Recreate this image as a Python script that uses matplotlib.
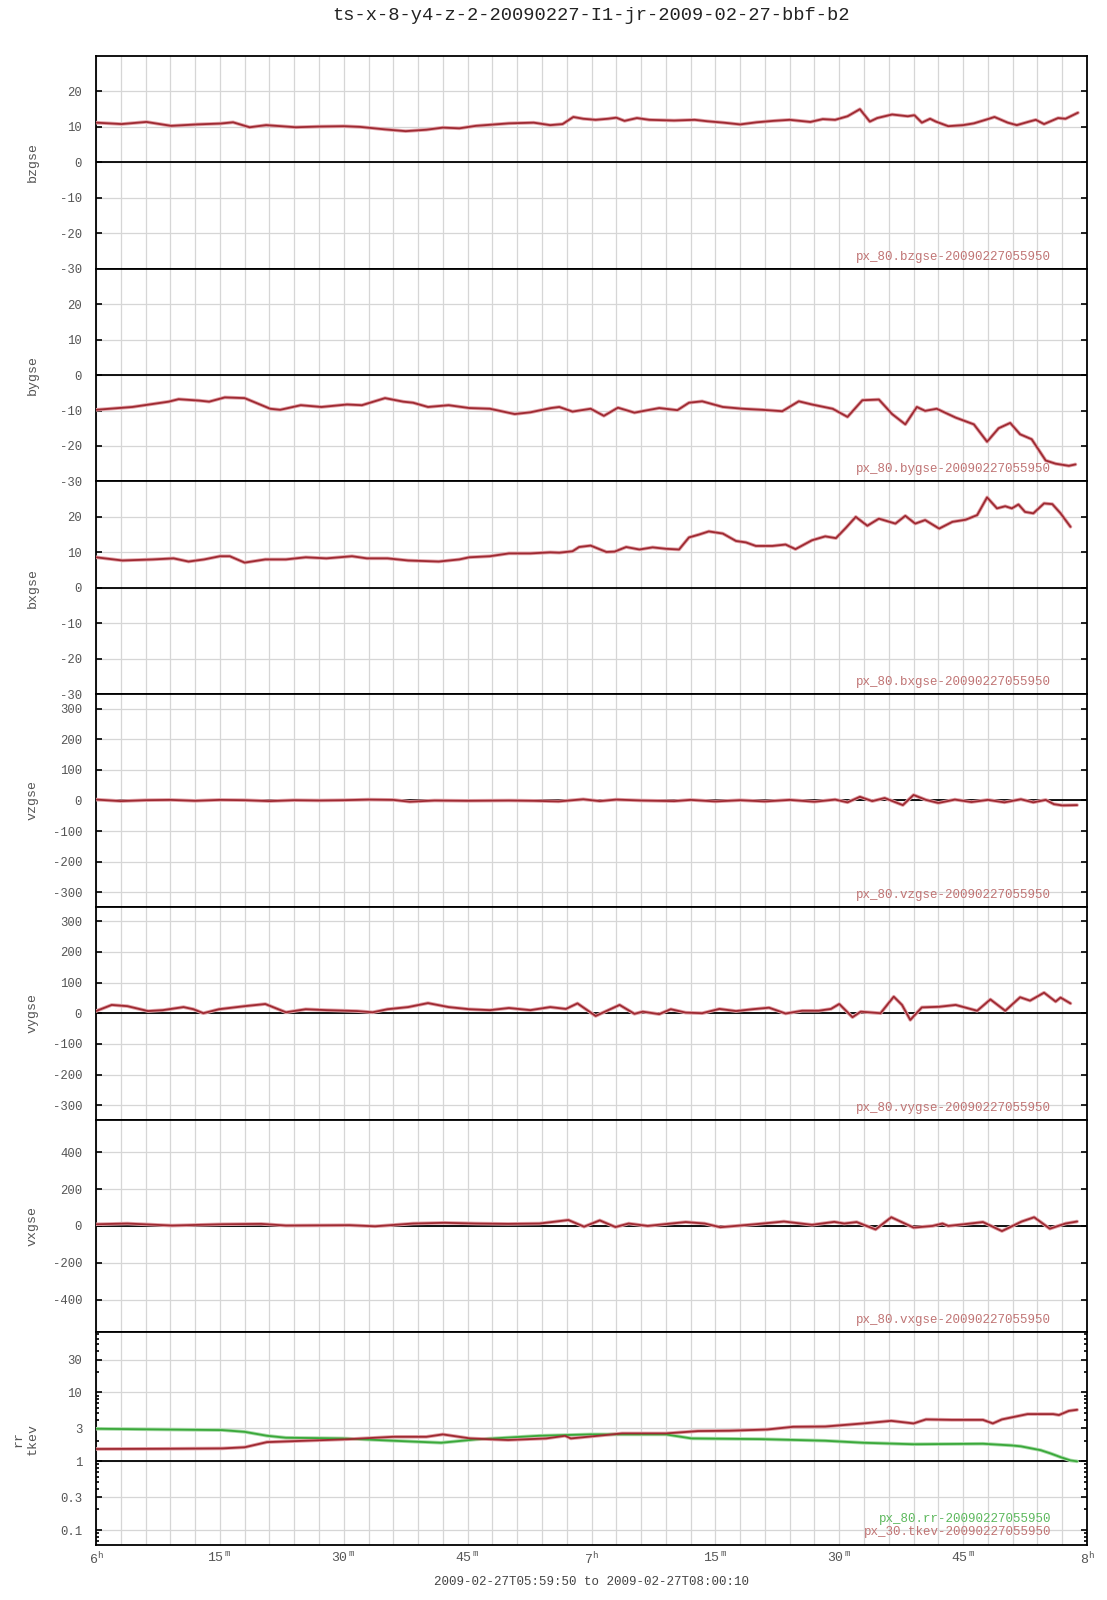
import matplotlib
matplotlib.use("Agg")
import matplotlib.pyplot as plt
import numpy as np
from matplotlib.ticker import FixedLocator, FuncFormatter, LogLocator, NullFormatter

# ---------------- data (minutes after 06:00) ----------------
title = "ts-x-8-y4-z-2-20090227-I1-jr-2009-02-27-bbf-b2"
caption = "2009-02-27T05:59:50 to 2009-02-27T08:00:10"

bz_t = [0, 3.1, 6.1, 9.1, 12.2, 15.1, 16.6, 18.6, 20.6, 24.2, 27, 30, 32, 35, 37.5, 40, 42, 44, 46, 50,
        53, 55, 56.5, 57.8, 59, 60.5, 62, 63, 64, 65.5, 67, 70, 72.5, 74, 76, 78, 80, 82, 84, 86.5, 88,
        89.5, 91, 92.5, 93.7, 94.6, 96.4, 98.3, 99.1, 100, 101, 101.7, 103.2, 105, 106.3, 108, 108.8,
        110.4, 111.5, 113, 113.8, 114.8, 116.5, 117.4, 118.9]
bz_v = [11.2, 10.8, 11.4, 10.3, 10.7, 10.95, 11.3, 9.9, 10.5, 9.9, 10.1, 10.2, 10.0, 9.3, 8.8, 9.2, 9.8,
        9.6, 10.3, 11.0, 11.2, 10.5, 10.8, 12.8, 12.3, 12.0, 12.3, 12.6, 11.7, 12.5, 12.0, 11.8, 12.0,
        11.6, 11.2, 10.7, 11.3, 11.7, 12.0, 11.4, 12.2, 12.0, 13.0, 15.0, 11.5, 12.5, 13.5, 13.0, 13.3,
        11.2, 12.3, 11.5, 10.2, 10.5, 11.0, 12.2, 12.8, 11.2, 10.5, 11.5, 12.0, 10.8, 12.5, 12.3, 14.0]

by_t = [0, 4.4, 8.8, 10, 12.5, 13.7, 15.6, 18, 21.1, 22.3, 24.8, 27.3, 30.4, 32.2, 35, 37.2, 38.4, 40.2,
        42.7, 45.2, 47.7, 50.7, 52.6, 55.1, 56.1, 57.7, 59.9, 61.5, 63.2, 65.2, 68.2, 70.4, 71.8, 73.4,
        75.9, 78.3, 80.7, 83.1, 85.1, 86.7, 89.2, 91.0, 92.8, 94.8, 96.4, 98.0, 99.4, 100.4, 101.8,
        104.1, 106.3, 107.9, 109.3, 110.7, 111.9, 113.3, 115.0, 116.2, 117.8, 118.6]
by_v = [-9.8, -9.0, -7.5, -6.8, -7.2, -7.5, -6.3, -6.5, -9.5, -9.8, -8.5, -9.0, -8.3, -8.5, -6.5, -7.5,
        -7.8, -9.0, -8.5, -9.3, -9.5, -11.0, -10.5, -9.3, -9.0, -10.3, -9.5, -11.5, -9.2, -10.6, -9.3,
        -9.9, -7.8, -7.4, -9.0, -9.5, -9.8, -10.2, -7.4, -8.3, -9.5, -11.8, -7.1, -6.9, -11.0, -13.9,
        -9.0, -10.1, -9.5, -12.0, -13.9, -18.8, -15.0, -13.5, -16.7, -18.1, -24.1, -25.0, -25.6, -25.2]

bx_t = [0, 3.2, 6.9, 9.4, 11.2, 13.1, 15, 16.2, 18, 20.5, 23, 25.4, 27.9, 31, 32.8, 35.3, 37.8, 41.5,
        44, 45.2, 47.7, 50, 52.6, 55, 56.1, 57.7, 58.5, 59.9, 61.8, 62.8, 64.2, 65.8, 67.4, 69.0, 70.6,
        71.8, 73.0, 74.2, 75.9, 77.5, 78.7, 79.9, 81.9, 83.5, 84.7, 86.7, 88.3, 89.6, 90.8, 92.0, 93.4,
        94.8, 96.8, 98.0, 99.2, 100.4, 102.1, 103.7, 105.3, 106.7, 107.9, 109.1, 110.1, 110.9, 111.7,
        112.5, 113.5, 114.8, 115.8, 116.8, 118.0]
bx_v = [8.6, 7.7, 8.0, 8.3, 7.4, 8.0, 8.9, 8.9, 7.1, 8.0, 8.0, 8.6, 8.3, 8.9, 8.3, 8.3, 7.7, 7.4, 8.0,
        8.6, 8.9, 9.7, 9.7, 10.0, 9.9, 10.3, 11.5, 11.9, 10.1, 10.2, 11.5, 10.8, 11.4, 11.0, 10.8, 14.2,
        15.0, 15.9, 15.3, 13.2, 12.8, 11.8, 11.8, 12.2, 10.9, 13.4, 14.5, 14.0, 16.9, 20.0, 17.5, 19.5,
        18.1, 20.3, 18.1, 19.1, 16.7, 18.6, 19.2, 20.5, 25.5, 22.4, 23.0, 22.4, 23.5, 21.4, 21.0, 23.8,
        23.6, 21.0, 17.2]

vz_t = [0, 3, 6, 9, 12, 15, 18, 21, 24, 27, 30, 33, 36, 38, 41, 45, 50, 53, 56, 59, 61, 63, 66, 70, 72,
        75, 78, 81, 84, 87, 89.5, 91, 92.5, 94, 95.5, 97.7, 99, 100.5, 102, 104, 106, 108, 110, 112,
        113.5, 115, 116, 117, 118.8]
vz_v = [3, -2, 1, 2, -1, 2, 1, -2, 1, 0, 1, 3, 2, -4, 0, -1, 0, -1, -3, 4, -2, 3, 0, -2, 2, -3, 1, -3, 2,
        -4, 3, -6, 12, -2, 8, -15, 18, 2, -8, 3, -5, 2, -6, 4, -6, 2, -12, -16, -15]

vy_t = [0, 1.9, 3.8, 6.3, 8.1, 10.6, 11.8, 13, 14.9, 18, 20.5, 23, 25.4, 27.9, 31.6, 33.5, 35.3, 37.8,
        40.2, 42.7, 45.2, 47.7, 50, 52.6, 55, 56.9, 58.3, 60.5, 63.4, 65.2, 66.2, 68.2, 69.6, 71.4, 73.4,
        75.5, 77.5, 79.5, 81.5, 83.5, 85.5, 87.5, 89.0, 90.0, 91.6, 92.6, 95.0, 96.6, 97.6, 98.6, 100.0,
        102.1, 104.1, 106.7, 108.3, 110.1, 111.9, 113.1, 114.8, 116.2, 116.8, 118.0]
vy_v = [7, 27, 23, 7, 10, 20, 13, 0, 13, 23, 30, 3, 13, 10, 7, 3, 13, 20, 33, 20, 13, 10, 17, 10, 20, 14,
        32, -9, 27, -2, 5, -3, 13, 2, 0, 14, 7, 13, 18, -1, 8, 8, 14, 30, -13, 5, 0, 54, 27, -22, 19,
        21, 27, 8, 45, 8, 52, 41, 67, 38, 51, 32]

vx_t = [0, 3.8, 9.2, 15.3, 20, 23, 30.7, 33.8, 38.4, 42.2, 46, 49.9, 53.7, 57.2, 59.1, 61, 62.9, 64.5,
        66.8, 71.4, 73.7, 75.6, 79.8, 83.3, 86.7, 89.4, 90.6, 92.1, 94.4, 96.3, 99, 101.3, 102.5, 103.2,
        105.1, 107.4, 109.7, 112.1, 113.6, 115.5, 117.4, 118.8]
vx_v = [9, 13, 2, 9, 11, 2, 4, -2, 13, 17, 13, 11, 13, 32, -4, 30, -6, 13, 0, 21, 13, -7, 9, 24, 6, 22,
        13, 21, -19, 47, -9, 0, 13, 0, 9, 21, -28, 24, 47, -15, 13, 24]

rr_t = [0, 8, 15.3, 18, 20.7, 23, 30, 36, 41.8, 46, 53.7, 59.9, 69, 72.1, 80.6, 88.3, 92.9, 99, 107.4,
        110.9, 112, 114.4, 115.6, 116.8, 118, 118.8]
rr_v = [2.97, 2.9, 2.84, 2.68, 2.35, 2.2, 2.15, 1.99, 1.86, 2.08, 2.35, 2.46, 2.46, 2.15, 2.1, 1.99,
        1.86, 1.77, 1.8, 1.7, 1.65, 1.45, 1.3, 1.15, 1.03, 1.0]

tk_t = [0, 7.7, 15.3, 18, 20.7, 25.3, 30.7, 36, 40, 42, 45.3, 49.9, 54.5, 56.8, 57.5, 61.4, 63.7, 69,
        72.9, 76.7, 81.3, 84.4, 88.3, 92.9, 96.3, 99, 100.5, 103.6, 107.4, 108.6, 109.7, 112.8, 115.9,
        116.6, 117.8, 118.8]
tk_v = [1.51, 1.52, 1.54, 1.6, 1.9, 1.99, 2.1, 2.27, 2.27, 2.46, 2.15, 2.04, 2.15, 2.35, 2.15, 2.39,
        2.54, 2.54, 2.75, 2.78, 2.9, 3.17, 3.2, 3.55, 3.87, 3.55, 4.06, 4.0, 4.0, 3.55, 4.06, 4.85, 4.85,
        4.7, 5.4, 5.6]

panel_names = ["bzgse", "bygse", "bxgse", "vzgse", "vygse", "vxgse", "rr\ntkev"]
b_ticks = [-30, -20, -10, 0, 10, 20]
vzy_ticks = [-300, -200, -100, 0, 100, 200, 300]
vx_ticks = [-400, -200, 0, 200, 400]
log_ticks = [0.1, 0.3, 1, 3, 10, 30]
log_labels = ["0.1", "0.3", "1", "3", "10", "30"]
stamp = "20090227055950"

# ---------------- style ----------------
plt.rcParams['font.family'] = ['Liberation Mono', 'DejaVu Sans Mono']
plt.rcParams['axes.unicode_minus'] = False
plt.rcParams['mathtext.fontset'] = 'custom'
plt.rcParams['mathtext.rm'] = 'Liberation Mono'
plt.rcParams['mathtext.it'] = 'Liberation Mono'

RED = '#9e2a32'
RED_HALO = '#e2a2a8'
GREEN = '#3aa83a'
GREEN_HALO = '#a9dba9'
GRID = '#d6d6d6'
TXT = '#555555'

W, H = 1107, 1600
fig = plt.figure(figsize=(W / 100, H / 100), dpi=100)
axes = fig.subplots(7, 1, sharex=True,
                    gridspec_kw=dict(hspace=0, left=96 / W, right=1087 / W,
                                     top=1 - 56 / H, bottom=1 - 1545 / H))

series = [
    [(bz_t, bz_v, 'red', "px_80.bzgse-" + stamp)],
    [(by_t, by_v, 'red', "px_80.bygse-" + stamp)],
    [(bx_t, bx_v, 'red', "px_80.bxgse-" + stamp)],
    [(vz_t, vz_v, 'red', "px_80.vzgse-" + stamp)],
    [(vy_t, vy_v, 'red', "px_80.vygse-" + stamp)],
    [(vx_t, vx_v, 'red', "px_80.vxgse-" + stamp)],
    [(rr_t, rr_v, 'green', "px_80.rr-" + stamp), (tk_t, tk_v, 'red', "px_30.tkev-" + stamp)],
]
ylims = [(-30, 30), (-30, 30), (-30, 30), (-347, 347), (-347, 347), (-577, 577), (0.061, 74.7)]
yticks = [b_ticks, b_ticks, b_ticks, vzy_ticks, vzy_ticks, vx_ticks, log_ticks]

odd_ticks = [9, 12, 24, 36, 39, 48, 51, 60, 63, 72, 75, 84, 87, 99, 111, 114]


def xfmt(v, pos):
    m = int(round(v))
    if m % 15 != 0:
        return ''
    if m % 60 == 0:
        return r'$\mathrm{%d}^{\mathrm{h}}$' % (6 + m // 60)
    return r'$\mathrm{%d}^{\mathrm{\ m}}$' % (m % 60)


for i, ax in enumerate(axes):
    ax.set_xlim(0, 120)
    if i == 6:
        ax.set_yscale('log')
    ax.set_ylim(*ylims[i])
    ax.set_yticks(yticks[i])
    if i == 6:
        ax.set_yticklabels(log_labels)
        ax.yaxis.set_minor_locator(LogLocator(base=10, subs=np.arange(2, 10)))
        ax.yaxis.set_minor_formatter(NullFormatter())
        ax.tick_params(axis='y', which='minor', direction='in', length=2.5, width=1.2,
                       left=True, right=True, color='k')
    ax.set_xticks(np.arange(0, 121, 3))
    ax.xaxis.set_major_formatter(FuncFormatter(xfmt))
    ax.grid(True, which='major', color=GRID, lw=0.9, zorder=0)
    ax.set_axisbelow(True)
    ax.axhline(1 if i == 6 else 0, color='k', lw=1.3, zorder=2)
    for s in ax.spines.values():
        s.set_color('k')
        s.set_linewidth(1.3)
    ax.tick_params(axis='y', which='major', direction='in', length=4, width=1.2,
                   left=True, right=True, labelcolor=TXT, labelsize=8.8, pad=10, color='k')
    ax.tick_params(axis='x', which='major', length=0, labelcolor=TXT, labelsize=9.5, pad=4)
    ax.xaxis.set_minor_locator(FixedLocator(odd_ticks))
    ax.tick_params(axis='x', which='minor', direction='in', length=6, width=1.2, color='k',
                   top=(i == 0), bottom=(i == 6))
    if i != 6:
        ax.tick_params(axis='x', which='major', labelbottom=False)

    ax.set_ylabel(panel_names[i], color=TXT, fontsize=9.5, labelpad=0)
    ax.yaxis.set_label_coords(-0.058, 0.5)

    n = len(series[i])
    for k, (t, v, col, lab) in enumerate(series[i]):
        main = RED if col == 'red' else GREEN
        halo = RED_HALO if col == 'red' else GREEN_HALO
        ax.plot(t, v, color=halo, lw=2.6, solid_capstyle='round', solid_joinstyle='round', zorder=3)
        ax.plot(t, v, color=main, lw=1.3, solid_capstyle='round', solid_joinstyle='round', zorder=4)
        tcol = '#c07474' if col == 'red' else '#5cb85c'
        if n == 1:
            ypos = 12 / 213
        else:
            ypos = (26 if k == 0 else 13.5) / 213
        ax.text(0.9637, ypos, lab, transform=ax.transAxes, ha='right', va='center',
                color=tcol, fontsize=9, zorder=5)

fig.text(591.5 / W, 1 - 15 / H, title, ha='center', va='center', fontsize=13.5, color='#222222')
fig.text(591.5 / W, 1 - 1582 / H, caption, ha='center', va='center', fontsize=9, color='#444444')

fig.savefig("out.png", dpi=100)
